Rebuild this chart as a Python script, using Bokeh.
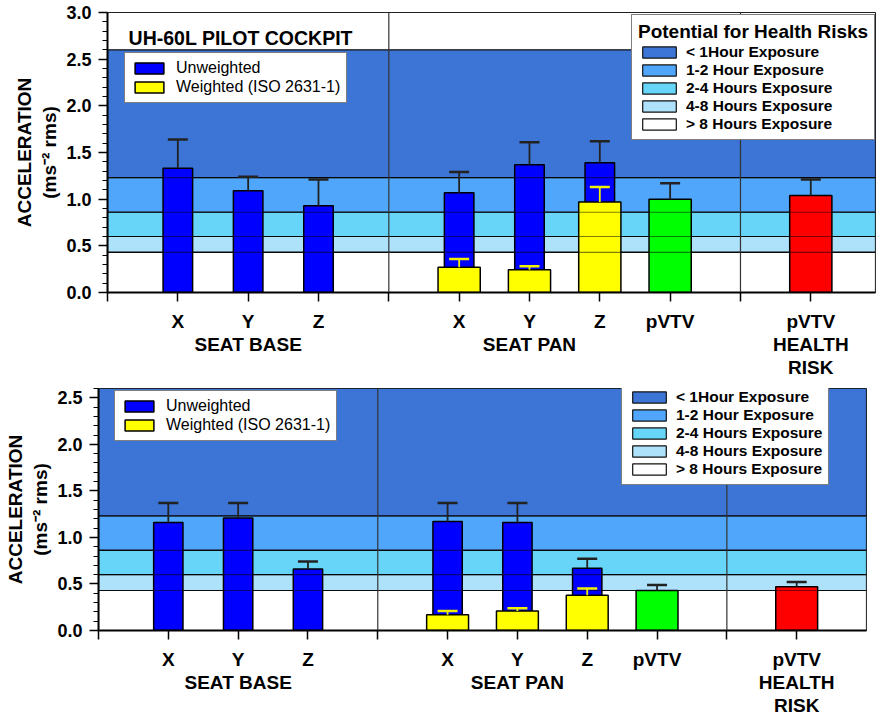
from bokeh.plotting import figure
from bokeh.models import (ColumnDataSource, Whisker, TeeHead, Legend, LegendItem,
                          Span, Label, FixedTicker, SingleIntervalTicker, Range1d,
                          PrintfTickFormatter)
from bokeh.layouts import column
from bokeh.embed import file_html
from bokeh.resources import INLINE

FONT = "Liberation Sans"

# ---------------- data ----------------
chart_title = "UH-60L PILOT COCKPIT"
axis_names = ["X", "Y", "Z"]
group_names = ["SEAT BASE", "SEAT PAN"]
pvtv_name = "pVTV"
health_name = ["HEALTH", "RISK"]
legend_series = ["Unweighted", "Weighted (ISO 2631-1)"]
risk_title = "Potential for Health Risks"

band_names = ["< 1Hour Exposure", "1-2 Hour Exposure", "2-4 Hours Exposure",
              "4-8 Hours Exposure", "> 8 Hours Exposure"]
band_bottom = [1.23, 0.86, 0.60, 0.43, 0.0]
band_top = [2.6, 1.23, 0.86, 0.60, 0.43]
band_colors = ["#3C75D5", "#50A6FA", "#66D5F8", "#AEE1FA", "#FFFFFF"]

# top chart
top_base_unw = [1.33, 1.09, 0.93]
top_base_unw_sd = [0.31, 0.15, 0.28]
top_pan_unw = [1.07, 1.37, 1.39]
top_pan_unw_sd = [0.22, 0.24, 0.23]
top_pan_w = [0.27, 0.245, 0.97]
top_pan_w_sd = [0.09, 0.035, 0.16]
top_pvtv = [1.00]
top_pvtv_sd = [0.17]
top_health = [1.04]
top_health_sd = [0.17]

# bottom chart
bot_base_unw = [1.16, 1.21, 0.66]
bot_base_unw_sd = [0.21, 0.16, 0.08]
bot_pan_unw = [1.17, 1.16, 0.67]
bot_pan_unw_sd = [0.20, 0.21, 0.10]
bot_pan_w = [0.17, 0.21, 0.38]
bot_pan_w_sd = [0.04, 0.03, 0.07]
bot_pvtv = [0.43]
bot_pvtv_sd = [0.06]
bot_health = [0.47]
bot_health_sd = [0.05]

# ---------------- slot layout ----------------
n = len(axis_names)
base_x = [1 + i for i in range(n)]
sep1 = base_x[-1] + 1
pan_x = [sep1 + 1 + i for i in range(n)]
pvtv_x = pan_x[-1] + 1
sep2 = pvtv_x + 1
health_x = sep2 + 1
ticks = [0] + base_x + [sep1] + pan_x + [pvtv_x, sep2, health_x]
overrides = {0: "", sep1: "", sep2: ""}
for i, x in enumerate(base_x):
    overrides[x] = axis_names[i]
for i, x in enumerate(pan_x):
    overrides[x] = axis_names[i]
overrides[base_x[1]] = axis_names[1] + "\n" + group_names[0]
overrides[pan_x[1]] = axis_names[1] + "\n" + group_names[1]
overrides[pvtv_x] = pvtv_name
overrides[health_x] = pvtv_name + "\n" + health_name[0] + "\n" + health_name[1]


def make_chart(width, height, left, right, top_b, frame_h, x_end, y_end,
               base_unw, base_unw_sd, pan_unw, pan_unw_sd, pan_w, pan_w_sd,
               pvtv, pvtv_sd, health, health_sd,
               title, leg1_loc, leg2_loc, ylab_standoff, ytick_standoff, margin):
    p = figure(width=width, height=height, output_backend="svg", toolbar_location=None,
               x_range=Range1d(0, x_end), y_range=Range1d(0, y_end),
               min_border_left=left, min_border_right=right, min_border_top=top_b,
               min_border_bottom=height - top_b - frame_h, margin=margin)
    p.xgrid.visible = False
    p.ygrid.visible = False
    p.outline_line_color = "#222222"
    p.outline_line_width = 1
    p.background_fill_color = "white"

    # health risk bands
    bands = ColumnDataSource(dict(bottom=band_bottom, top=[min(t, y_end) for t in band_top],
                                  color=band_colors))
    band_r = p.quad(left=0, right=x_end, bottom="bottom", top="top", fill_color="color",
                    line_color="#111111", line_width=1.2, source=bands)

    bw_narrow = 0.42
    bw_wide = 0.6
    unw_x = base_x + pan_x
    unw = base_unw + pan_unw
    unw_sd = base_unw_sd + pan_unw_sd
    s_unw = ColumnDataSource(dict(x=unw_x, top=unw, lower=unw,
                                  upper=[a + b for a, b in zip(unw, unw_sd)]))
    r_unw = p.vbar(x="x", top="top", width=bw_narrow, fill_color="#0000FF",
                   line_color="black", line_width=1.5, source=s_unw)

    s_w = ColumnDataSource(dict(x=pan_x, top=pan_w, lower=pan_w,
                                upper=[a + b for a, b in zip(pan_w, pan_w_sd)]))
    r_w = p.vbar(x="x", top="top", width=bw_wide, fill_color="#FFFF00",
                 line_color="black", line_width=1.5, source=s_w)

    s_g = ColumnDataSource(dict(x=[pvtv_x], top=pvtv, lower=pvtv,
                                upper=[a + b for a, b in zip(pvtv, pvtv_sd)]))
    p.vbar(x="x", top="top", width=bw_wide, fill_color="#00FF00",
           line_color="black", line_width=1.5, source=s_g)
    s_r = ColumnDataSource(dict(x=[health_x], top=health, lower=health,
                                upper=[a + b for a, b in zip(health, health_sd)]))
    p.vbar(x="x", top="top", width=bw_wide, fill_color="#FF0000",
           line_color="black", line_width=1.5, source=s_r)

    # band boundary lines seen through bars
    lines = ColumnDataSource(dict(y=band_bottom[:-1]))
    p.segment(x0=0, x1=x_end, y0="y", y1="y", line_color="black", line_alpha=0.5,
              line_width=1.2, source=lines)

    for src, col in [(s_unw, "#222222"), (s_w, "#F0F000"), (s_g, "#222222"), (s_r, "#222222")]:
        wk = Whisker(source=src, base="x", upper="upper", lower="lower", dimension="height",
                     line_color=col, line_width=1.8, level="annotation",
                     upper_head=TeeHead(size=20, line_color=col, line_width=2.5),
                     lower_head=None)
        p.add_layout(wk)

    for sx in [sep1, sep2]:
        p.add_layout(Span(location=sx, dimension="height", line_color="#333333", line_width=1.2))

    # axes
    xa = p.xaxis[0]
    xa.ticker = FixedTicker(ticks=ticks, minor_ticks=[])
    xa.major_label_overrides = overrides
    xa.axis_line_width = 2
    xa.axis_line_color = "black"
    xa.major_tick_out = 9
    xa.major_tick_in = 0
    xa.major_tick_line_width = 1.5
    xa.major_label_text_font = FONT
    xa.major_label_text_font_style = "bold"
    xa.major_label_text_font_size = "19px"
    xa.major_label_text_color = "black"
    xa.major_label_text_line_height = 1.1
    xa.major_label_standoff = 9

    ya = p.yaxis[0]
    ya.ticker = SingleIntervalTicker(interval=0.5, num_minor_ticks=5)
    ya.formatter = PrintfTickFormatter(format="%.1f")
    ya.axis_line_width = 2
    ya.axis_line_color = "black"
    ya.major_tick_out = 9
    ya.major_tick_in = 0
    ya.minor_tick_out = 5
    ya.minor_tick_in = 0
    ya.major_tick_line_width = 1.5
    ya.minor_tick_line_width = 1
    ya.major_label_text_font = FONT
    ya.major_label_text_font_style = "bold"
    ya.major_label_text_font_size = "18px"
    ya.major_label_text_color = "black"
    ya.major_label_standoff = ytick_standoff
    ya.axis_label = "ACCELERATION\n(ms\u207b\u00b2 rms)"
    ya.axis_label_text_font = FONT
    ya.axis_label_text_font_style = "bold"
    ya.axis_label_text_font_size = "19px"
    ya.axis_label_text_color = "black"
    ya.axis_label_text_line_height = 1.2
    ya.axis_label_standoff = ylab_standoff

    if title:
        p.add_layout(Label(x=0.3, y=y_end - 0.27, text=title, text_font=FONT,
                           text_font_style="bold", text_font_size="19.5px", text_align="left",
                           text_baseline="middle", text_color="black"))

    leg1 = Legend(items=[LegendItem(label=legend_series[0], renderers=[r_unw]),
                         LegendItem(label=legend_series[1], renderers=[r_w])],
                  location=leg1_loc, glyph_width=36, glyph_height=14, label_height=18,
                  label_standoff=9, spacing=1, padding=6, margin=0,
                  label_text_font=FONT, label_text_font_size="16px",
                  label_text_color="black",
                  border_line_color="black", border_line_width=1.5,
                  background_fill_color="white", background_fill_alpha=1)
    p.add_layout(leg1)

    items = [LegendItem(label=band_names[i], renderers=[band_r], index=i) for i in range(len(band_names))]
    leg2 = Legend(items=items, location=leg2_loc, glyph_width=42, glyph_height=14,
                  label_height=18, label_standoff=6, spacing=0, padding=6, margin=0,
                  label_text_font=FONT, label_text_font_size="15.5px", label_text_font_style="bold",
                  label_text_color="black",
                  border_line_color="black", border_line_width=1.5,
                  background_fill_color="white", background_fill_alpha=1)
    if title:
        leg2.title = risk_title
        leg2.title_text_font = FONT
        leg2.title_text_font_style = "bold"
        leg2.title_text_font_size = "19px"
        leg2.title_text_color = "black"
        leg2.title_standoff = 0
    p.add_layout(leg2)
    return p


p_top = make_chart(877, 380, 107, 0, 12, 281, 10.92, 3.0,
                   top_base_unw, top_base_unw_sd, top_pan_unw, top_pan_unw_sd,
                   top_pan_w, top_pan_w_sd, top_pvtv, top_pvtv_sd, top_health, top_health_sd,
                   chart_title, (17, 189), (524, 152), 3, 7, (0, 0, 0, 0))
p_bot = make_chart(884, 338, 107, 2, 8, 243, 11.0, 2.6,
                   bot_base_unw, bot_base_unw_sd, bot_pan_unw, bot_pan_unw_sd,
                   bot_pan_w, bot_pan_w_sd, bot_pvtv, bot_pvtv_sd, bot_health, bot_health_sd,
                   None, (16, 189), (523, 145), 3, 7, (0, 0, 0, -9))

layout = column(p_top, p_bot, spacing=0)
open("out.html", "w").write(file_html(layout, INLINE))
